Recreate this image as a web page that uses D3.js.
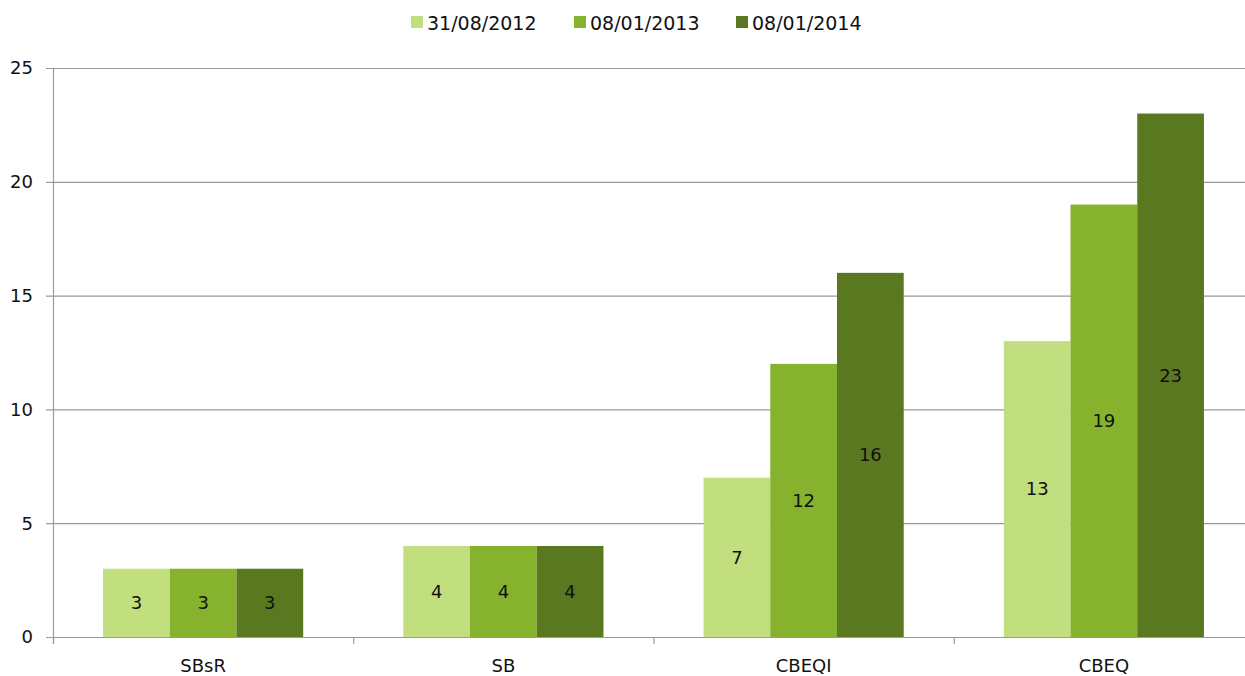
<!DOCTYPE html>
<html>
<head>
<meta charset="utf-8">
<script src="https://cdn.jsdelivr.net/npm/d3@7"></script>
<style>
  body { margin: 0; background: #fff; }
  svg text { font-family: "Century Gothic", "DejaVu Sans", sans-serif; fill: #111; }
</style>
</head>
<body>
<div id="chart"></div>
<script>
// --- Data ---
const categories = ['SBsR', 'SB', 'CBEQI', 'CBEQ'];
const seriesNames = ['31/08/2012', '08/01/2013', '08/01/2014'];
const values2012 = [3, 4, 7, 13];
const values2013 = [3, 4, 12, 19];
const values2014 = [3, 4, 16, 23];
const yTicks = [0, 5, 10, 15, 20, 25];
const colors = ['#c2df7f', '#86b22e', '#5a781f'];

const seriesValues = [values2012, values2013, values2014];

const width = 1245, height = 676;
const margin = { top: 68, left: 53, bottom: 39 };
const plotRight = 1254;

const svg = d3.select('#chart').append('svg')
  .attr('width', width)
  .attr('height', height);

const x = d3.scaleBand()
  .domain(categories)
  .range([margin.left, plotRight])
  .paddingInner(0)
  .paddingOuter(0);

// bars take 2/3 of each category band
const xs = d3.scaleBand()
  .domain(seriesNames)
  .range([0, x.bandwidth()])
  .paddingOuter(0.75)
  .paddingInner(0);

const y = d3.scaleLinear()
  .domain([0, 25])
  .range([height - margin.bottom, margin.top]);

// gridlines
svg.append('g')
  .selectAll('line')
  .data(yTicks)
  .join('line')
  .attr('x1', margin.left - 7)
  .attr('x2', width)
  .attr('y1', d => y(d) + 0.5)
  .attr('y2', d => y(d) + 0.5)
  .attr('stroke', '#9a9a9a')
  .attr('stroke-width', 1.2);

// y tick labels
svg.append('g')
  .selectAll('text')
  .data(yTicks)
  .join('text')
  .attr('x', 33)
  .attr('y', d => y(d))
  .attr('dy', '0.35em')
  .attr('text-anchor', 'end')
  .style('font-size', '18px')
  .text(d => d);

// bars
const groups = svg.append('g')
  .selectAll('g')
  .data(categories)
  .join('g')
  .attr('transform', d => `translate(${x(d)},0)`);

groups.selectAll('rect')
  .data((c, ci) => seriesNames.map((s, si) => ({ s, si, v: seriesValues[si][ci] })))
  .join('rect')
  .attr('x', d => xs(d.s))
  .attr('width', xs.bandwidth())
  .attr('y', d => y(d.v))
  .attr('height', d => y(0) - y(d.v))
  .attr('fill', d => colors[d.si]);

groups.selectAll('text.val')
  .data((c, ci) => seriesNames.map((s, si) => ({ s, si, v: seriesValues[si][ci] })))
  .join('text')
  .attr('class', 'val')
  .attr('x', d => xs(d.s) + xs.bandwidth() / 2)
  .attr('y', d => (y(d.v) + y(0)) / 2)
  .attr('dy', '0.35em')
  .attr('text-anchor', 'middle')
  .style('font-size', '18px')
  .text(d => d.v);

// y axis line
svg.append('line')
  .attr('x1', margin.left + 0.5).attr('x2', margin.left + 0.5)
  .attr('y1', margin.top).attr('y2', y(0) + 7)
  .attr('stroke', '#9a9a9a').attr('stroke-width', 1.2);

// x axis line + ticks
svg.append('line')
  .attr('x1', margin.left).attr('x2', width)
  .attr('y1', y(0) + 0.5).attr('y2', y(0) + 0.5)
  .attr('stroke', '#9a9a9a').attr('stroke-width', 1.2);

svg.append('g')
  .selectAll('line')
  .data(categories)
  .join('line')
  .attr('x1', d => x(d) + 0.5).attr('x2', d => x(d) + 0.5)
  .attr('y1', y(0)).attr('y2', y(0) + 7)
  .attr('stroke', '#9a9a9a').attr('stroke-width', 1.2);

// category labels
svg.append('g')
  .selectAll('text')
  .data(categories)
  .join('text')
  .attr('x', d => x(d) + x.bandwidth() / 2)
  .attr('y', 672)
  .attr('text-anchor', 'middle')
  .style('font-size', '18px')
  .text(d => d);

// legend
const legendX = [411, 574, 736];
const legend = svg.append('g')
  .selectAll('g')
  .data(seriesNames)
  .join('g')
  .attr('transform', (d, i) => `translate(${legendX[i]},0)`);

legend.append('rect')
  .attr('x', 0).attr('y', 16)
  .attr('width', 12).attr('height', 12)
  .attr('fill', (d, i) => colors[i]);

legend.append('text')
  .attr('x', 16).attr('y', 23)
  .attr('dy', '0.35em')
  .style('font-size', '19px')
  .text(d => d);
</script>
</body>
</html>
